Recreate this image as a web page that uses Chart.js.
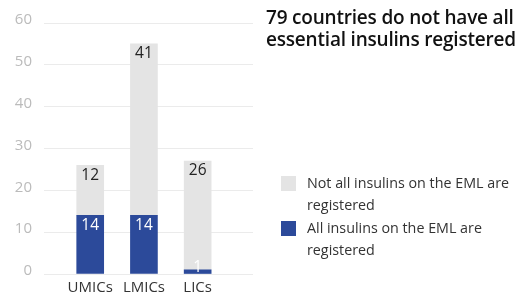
<!DOCTYPE html>
<html>
<head>
<meta charset="utf-8">
<script src="https://cdn.jsdelivr.net/npm/chart.js@4"></script>
<style>
  body { margin: 0; background: #fff; font-family: "Open Sans", "Noto Sans", sans-serif; }
  #wrap { position: relative; width: 520px; height: 300px; }
  #title { position: absolute; left: 266px; top: 6px; font-size: 19px; font-weight: 600; line-height: 22px; color: #111; white-space: nowrap; letter-spacing: -0.2px; }
  #legend { position: absolute; left: 281px; top: 172px; font-size: 14.3px; line-height: 22px; color: #333; white-space: nowrap; }
  .item { position: relative; padding-left: 26px; margin-bottom: 1px; }
  .swatch { position: absolute; left: 0; top: 4px; width: 15px; height: 15px; }
</style>
</head>
<body>
<div id="wrap">
  <canvas id="cvChart" width="520" height="300"></canvas>
  <div id="title">79 countries do not have all<br>essential insulins registered</div>
  <div id="legend"></div>
</div>
<script>
const categories = ["UMICs", "LMICs", "LICs"];
const allRegistered = [14, 14, 1];
const notAllRegistered = [12, 41, 26];
const yTicks = [0, 10, 20, 30, 40, 50, 60];

const BLUE = "#2c4a9a";
const GREY = "#e4e4e4";

const toPoints = (arr) => arr.map((v, i) => ({ x: i + 1, y: v }));

// draws the value labels at the top of each segment
const valueLabels = {
    id: "valueLabels",
    afterDatasetsDraw(chart) {
        const ctx = chart.ctx;
        ctx.save();
        ctx.font = "15.5px 'Open Sans', 'Noto Sans', sans-serif";
        ctx.textAlign = "center";
        ctx.textBaseline = "middle";
        chart.data.datasets.forEach((ds, di) => {
            chart.getDatasetMeta(di).data.forEach((bar, i) => {
                let y = bar.y + 10;
                if (y > bar.base - 6) y = bar.base - 6;
                ctx.fillStyle = ds.labelColor;
                ctx.fillText(ds.data[i].y, bar.x, y);
            });
        });
        ctx.restore();
    }
};

const ctx = document.getElementById("cvChart").getContext("2d");
const myChart = new Chart(ctx, {
    type: "bar",
    data: {
        datasets: [{
            label: "All insulins on the EML are registered",
            data: toPoints(allRegistered),
            backgroundColor: BLUE,
            labelColor: "#ffffff",
            barThickness: 27
        }, {
            label: "Not all insulins on the EML are registered",
            data: toPoints(notAllRegistered),
            backgroundColor: GREY,
            labelColor: "#222222",
            barThickness: 27
        }]
    },
    options: {
        responsive: false,
        animation: false,
        layout: { padding: { top: 23, right: 267, left: 0, bottom: 0 } },
        plugins: {
            legend: { display: false },
            tooltip: { enabled: false }
        },
        scales: {
            x: {
                type: "linear",
                stacked: true,
                offset: false,
                min: 0.14,
                max: 4.03,
                afterBuildTicks: (s) => { s.ticks = categories.map((c, i) => ({ value: i + 1 })); },
                afterFit: (s) => { s.height = 26; },
                grid: { display: false, offset: false },
                border: { display: false },
                ticks: {
                    color: "#333",
                    padding: -3,
                    font: { family: "'Open Sans', 'Noto Sans', sans-serif", size: 15 },
                    callback: (v) => categories[v - 1]
                }
            },
            y: {
                stacked: true,
                min: 0,
                max: 60,
                afterBuildTicks: (s) => { s.ticks = yTicks.map(v => ({ value: v })); },
                afterFit: (s) => { s.width = 44; },
                grid: { color: "#ebebeb", drawTicks: false },
                border: { display: false },
                ticks: {
                    color: "#bbbbbb",
                    padding: 12,
                    labelOffset: -3,
                    font: { family: "'Open Sans', 'Noto Sans', sans-serif", size: 15 }
                }
            }
        }
    },
    plugins: [valueLabels]
});

// html legend, grey series first like the reference
const legendEl = document.getElementById("legend");
[myChart.data.datasets[1], myChart.data.datasets[0]].forEach(ds => {
    const words = ds.label.split(" ");
    const last = words.pop();
    legendEl.insertAdjacentHTML("beforeend", `
        <div class="item">
            <span class="swatch" style="background:${ds.backgroundColor}"></span>
            ${words.join(" ")}<br>${last}
        </div>`);
});
</script>
</body>
</html>
